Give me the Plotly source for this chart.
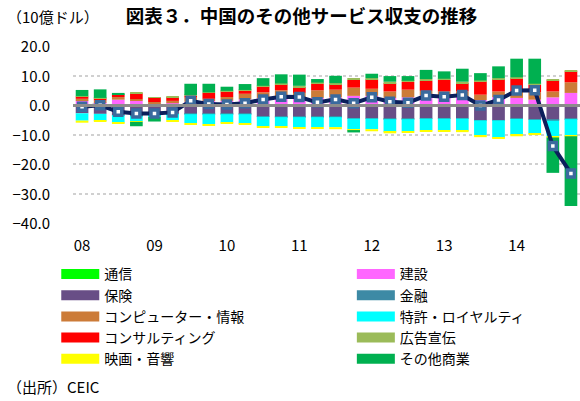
import plotly.graph_objects as go

quarters = [f"{y}Q{q}" for y in range(2008, 2015) for q in range(1, 5)]
year_ticks = [f"{y}Q1" for y in range(2008, 2015)]
year_labels = ["08", "09", "10", "11", "12", "13", "14"]

# 10億ドル, quarterly 2008Q1-2014Q4
tsushin = [0.1, 0.1, 0.1, 0.0, 0.0, 0.1, 0.1, 0.1, 0.1, 0.1, 0.1, 0.1, 0.1, 0.1,
           0.1, 0.1, 0.1, 0.1, 0.1, 0.1, 0.1, 0.1, 0.1, 0.1, 0.1, 0.1, 0.1, 0.1]
kensetsu = [1.4, 0.8, 1.7, 1.4, 0.4, 0.5, 1.0, 1.4, 1.3, 1.8, 2.3, 2.9, 2.0, 2.3,
            2.5, 3.0, 3.0, 2.3, 2.5, 3.2, 2.8, 2.8, 1.6, 2.6, 2.3, 1.7, 2.5, 4.0]
hoken = [-2.8, -3.0, -3.4, -3.7, -3.5, -3.0, -3.0, -3.0, -3.0, -3.0, -3.9, -4.0, -4.0, -4.0,
         -4.0, -4.5, -4.5, -4.7, -4.7, -4.5, -4.5, -4.5, -5.1, -5.1, -4.5, -4.8, -5.0, -4.5]
kinyu = [0.0, 0.0, -0.1, -0.1, -0.1, -0.1, -0.1, -0.1, -0.1, -0.1, -0.1, -0.1, -0.1, -0.1,
         -0.1, -0.1, -0.1, -0.1, -0.1, -0.1, -0.1, -0.1, -0.1, -0.1, -0.2, -0.2, -0.3, -0.3]
computer = [0.6, 0.6, 0.9, 0.6, 0.6, 0.8, 1.4, 0.6, 1.3, 1.9, 1.9, 2.0, 2.0, 2.6,
            2.6, 2.8, 2.4, 2.2, 2.6, 1.5, 1.7, 1.7, 1.8, 1.9, 2.2, 2.5, 2.0, 3.6]
tokkyo = [-2.5, -2.4, -2.5, -1.8, -0.4, -2.0, -3.0, -3.4, -2.9, -3.3, -3.2, -3.1, -3.4, -3.4,
          -3.4, -3.7, -3.6, -4.3, -4.1, -4.0, -4.0, -4.2, -5.1, -5.9, -5.4, -4.8, -5.4, -5.7]
consul = [0.8, 0.8, 0.7, 2.0, 1.6, 1.3, 0.7, 2.0, 1.9, 1.1, 2.0, 2.0, 2.0, 2.2,
          1.9, 2.6, 3.2, 2.8, 2.6, 3.4, 4.0, 2.8, 4.5, 4.2, 4.5, 2.6, 3.7, 3.7]
koukoku = [0.1, 0.1, 0.1, 0.1, 0.1, 0.1, 0.2, 0.2, 0.2, 0.2, 0.2, 0.3, 0.4, 0.4,
           0.3, 0.4, 0.4, 0.5, 0.4, 0.6, 0.3, 0.5, 0.3, 0.3, 0.3, 0.3, 0.2, 0.2]
eiga = [-0.7, -0.3, -0.3, -0.1, 0.0, -0.6, -0.4, -0.5, -0.4, -0.3, -0.4, -0.5, -0.5, -0.5,
        -0.7, -0.2, -0.7, -0.5, -0.4, -0.5, -0.5, -0.4, -0.6, -0.4, -0.5, -0.4, -0.3, -0.1]
sonota = [2.1, 2.9, 0.6, -1.5, -1.6, 0.0, 3.8, 2.9, 1.4, 2.0, 2.6, 3.1, 3.8, 1.2,
          2.5, -0.8, 1.5, 1.9, 1.6, 3.1, 2.5, 4.4, 2.5, 4.0, 6.3, 8.5, -12.0, -23.6]
total = [-0.6, -0.1, -2.3, -2.9, -2.9, -2.5, 1.4, 0.3, 0.2, 0.6, 1.9, 2.8, 2.7, 0.9,
         1.9, 0.6, 2.6, 1.1, 0.8, 3.2, 2.8, 3.4, -0.2, 1.7, 4.9, 5.0, -13.9, -23.2]

series = [
    ("通信", tsushin, "#00FF00", "legend"),
    ("建設", kensetsu, "#FF66FF", "legend2"),
    ("保険", hoken, "#684E86", "legend"),
    ("金融", kinyu, "#3D8AA5", "legend2"),
    ("コンピューター・情報", computer, "#CC7B38", "legend"),
    ("特許・ロイヤルティ", tokkyo, "#00FFFF", "legend2"),
    ("コンサルティング", consul, "#FF0000", "legend"),
    ("広告宣伝", koukoku, "#9BBB59", "legend2"),
    ("映画・音響", eiga, "#FFFF00", "legend"),
    ("その他商業", sonota, "#00B050", "legend2"),
]

FONT = "Noto Sans CJK JP"
fig = go.Figure()
for name, vals, col, lg in series:
    fig.add_trace(go.Bar(x=quarters, y=vals, name=name, marker=dict(color=col, line=dict(width=0)),
                         showlegend=False))
for name, vals, col, lg in series:
    fig.add_trace(go.Scatter(x=[None], y=[None], mode="lines", name=name,
                             line=dict(color=col, width=10), legend=lg))

fig.add_trace(go.Scatter(x=quarters, y=total, mode="lines+markers", showlegend=False,
                         line=dict(color="#0B1F5B", width=4),
                         marker=dict(symbol="square", size=7, color="white",
                                     line=dict(color="#3A6A9E", width=3.5))))

fig.update_layout(
    width=580, height=401,
    margin=dict(l=73, r=0, t=46, b=178),
    paper_bgcolor="white", plot_bgcolor="white",
    barmode="relative", bargap=0.3,
    font=dict(family=FONT, size=15, color="black"),
    title=dict(text="<b>図表３．中国のその他サービス収支の推移</b>", x=0.52, xanchor="center",
               y=0.958, yanchor="middle", font=dict(size=18.5, family=FONT)),
    legend=dict(x=-0.033, y=-0.2, xanchor="left", yanchor="top", orientation="v",
                itemwidth=38, font=dict(size=14, family=FONT), tracegroupgap=0,
                bgcolor="rgba(0,0,0,0)"),
    legend2=dict(x=0.55, y=-0.2, xanchor="left", yanchor="top", orientation="v",
                 itemwidth=38, font=dict(size=14, family=FONT), tracegroupgap=0,
                 bgcolor="rgba(0,0,0,0)"),
    annotations=[
        dict(text="（10億ドル）", xref="paper", yref="paper", x=-0.134, y=1.164,
             xanchor="left", yanchor="middle", showarrow=False, font=dict(size=15)),
        dict(text="（出所）CEIC", xref="paper", yref="paper", x=-0.134, y=-0.921,
             xanchor="left", yanchor="middle", showarrow=False, font=dict(size=15)),
    ],
)
fig.update_xaxes(type="category", range=[-0.5, 27.5], tickvals=year_ticks, ticktext=year_labels,
                 showgrid=False, showline=False, zeroline=False, ticks="",
                 ticklabelstandoff=12, tickfont=dict(size=15))
fig.update_yaxes(range=[-40, 20], dtick=10, tickformat=".1f", showgrid=True,
                 gridcolor="#D0D0D0", gridwidth=2, griddash="dot",
                 zeroline=True, zerolinecolor="#8C8C8C", zerolinewidth=3,
                 showline=False, ticks="outside", ticklen=19, tickcolor="rgba(0,0,0,0)",
                 ticklabelshift=1, tickfont=dict(size=15))
try:
    fig.update_yaxes(zerolinelayer="above traces")
except Exception:
    fig.add_shape(type="line", xref="paper", yref="y", x0=0, x1=1, y0=0, y1=0,
                  line=dict(color="#8C8C8C", width=3), layer="above")

fig.write_html("out.html", config={"displayModeBar": False},
               post_script="document.body.style.margin='0px';")
